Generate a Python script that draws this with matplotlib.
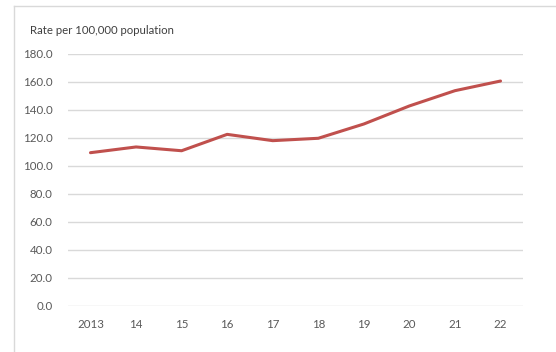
import matplotlib.pyplot as plt
from matplotlib.lines import Line2D

years = ['2013', '14', '15', '16', '17', '18', '19', '20', '21', '22']
rates = [109.5, 113.6, 110.9, 122.6, 118.1, 119.8, 130.0, 142.9, 153.8, 160.7]

W, H = 556, 352
plt.rcParams['font.family'] = ['Lato', 'DejaVu Sans']
text_col = '#595959'

fig = plt.figure(figsize=(W / 100, H / 100), dpi=100)
ax = fig.add_axes([67.7 / W, 1 - 306 / H, (523.3 - 67.7) / W, (306 - 54) / H])

x = range(len(years))
ax.plot(x, rates, color='#C0504D', linewidth=2.2, solid_capstyle='round', zorder=3)

ax.set_xlim(-0.5, len(years) - 0.5)
ax.set_ylim(0, 180)
ax.set_yticks(range(0, 181, 20))
ax.set_yticklabels(['{:.1f}'.format(v) for v in range(0, 181, 20)])
ax.set_xticks(list(x))
ax.set_xticklabels(years)

ax.grid(axis='y', color='#D9D9D9', linewidth=1.0)
ax.set_axisbelow(True)
for s in ax.spines.values():
    s.set_visible(False)
ax.tick_params(length=0, labelsize=8.3, colors=text_col)
ax.tick_params(axis='y', pad=11)
ax.tick_params(axis='x', pad=9)

fig.text(30 / W, 1 - 30 / H, 'Rate per 100,000 population', fontsize=8.2,
         color='#404040', va='center', ha='left')

# chart frame (left and top edges)
fig.add_artist(Line2D([13.5 / W, 13.5 / W], [0, 1 - 6 / H], transform=fig.transFigure,
                      color='#D9D9D9', linewidth=1.0))
fig.add_artist(Line2D([13.5 / W, 1], [1 - 6 / H, 1 - 6 / H], transform=fig.transFigure,
                      color='#D9D9D9', linewidth=1.0))

fig.savefig('out.png', dpi=100)
